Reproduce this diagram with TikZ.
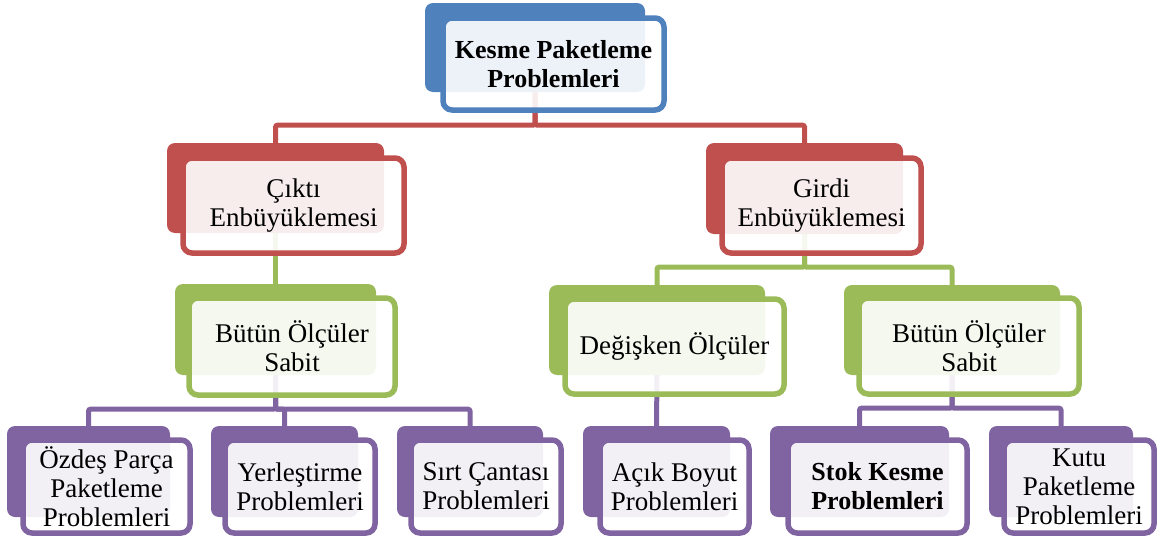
\documentclass[tikz,border=0pt]{standalone}
\usepackage{fontspec}
\setmainfont{Liberation Serif}
\usetikzlibrary{positioning}
\definecolor{mavi}{HTML}{4F81BD}
\definecolor{kirmizi}{HTML}{C0504D}
\definecolor{yesil}{HTML}{9BBB59}
\definecolor{mor}{HTML}{8064A2}

\begin{document}
\begin{tikzpicture}[
   x=1pt,y=-1pt,
   back/.style={fill=#1,rounded corners=8pt,inner sep=0pt},
   front/.style={draw=#1,line width=5.5pt,rounded corners=9pt,
                 fill=white,fill opacity=0.9,text opacity=1,
                 align=center,inner sep=2pt,
                 font=\fontsize{27pt}{29pt}\selectfont},
   link/.style={draw=#1,line width=5pt,rounded corners=2pt},
   sz/.style 2 args={minimum width=#1pt,minimum height=#2pt}]
  \useasboundingbox (0,0) rectangle (1163,538);
  % back boxes
  \node[back=mavi,sz={220}{89}] (kpp) at (535,47.5) {};
  \node[back=kirmizi,sz={217}{90}] (ckt) at (275.5,188) {};
  \node[back=kirmizi,sz={197}{91}] (grd) at (804.5,188.5) {};
  \node[back=yesil,sz={201}{91}] (bos1) at (275.5,329.5) {};
  \node[back=yesil,sz={216}{90}] (dgs) at (657,330) {};
  \node[back=yesil,sz={216}{90}] (bos2) at (952,330) {};
  \node[back=mor,sz={163}{91}] (ozd) at (88.5,471.5) {};
  \node[back=mor,sz={147}{91}] (yer) at (284.5,471.5) {};
  \node[back=mor,sz={146}{91}] (srt) at (470,471.5) {};
  \node[back=mor,sz={147}{91}] (acb) at (656.5,471.5) {};
  \node[back=mor,sz={179}{91}] (stk) at (859.5,471.5) {};
  \node[back=mor,sz={144}{91}] (kpb) at (1061,471.5) {};
  % connectors
  \draw[link=kirmizi] (kpp.south) -- ++(0,33) -| (ckt.north);
  \draw[link=kirmizi] (kpp.south) -- ++(0,33) -| (grd.north);
  \draw[link=yesil] (ckt.south) -- (bos1.north);
  \draw[link=yesil] (grd.south) -- ++(0,33) -| (dgs.north);
  \draw[link=yesil] (grd.south) -- ++(0,33) -| (bos2.north);
  \draw[link=mor] (bos1.south) -- ++(0,34) -| (ozd.north);
  \draw[link=mor] (bos1.south) -- ++(0,34) -| (yer.north);
  \draw[link=mor] (bos1.south) -- ++(0,34) -| (srt.north);
  \draw[link=mor] (dgs.south) -- (acb.north);
  \draw[link=mor] (bos2.south) -- ++(0,33) -| (stk.north);
  \draw[link=mor] (bos2.south) -- ++(0,33) -| (kpb.north);
  % front boxes
  \node[front=mavi,sz={221}{92},font=\fontsize{26pt}{29pt}\selectfont\bfseries] (kppF) at (553.5,64)
       {Kesme Paketleme\\Problemleri};
  \node[front=kirmizi,sz={221}{95}] (cktF) at (293.5,205.5) {Çıktı\\Enbüyüklemesi};
  \node[front=kirmizi,sz={199}{95}] (grdF) at (821.5,205.5) {Girdi\\Enbüyüklemesi};
  \node[front=yesil,sz={206}{97}] (bos1F) at (292,346.5) {Bütün Ölçüler\\Sabit};
  \node[front=yesil,sz={219}{95}] (dgsF) at (674.5,346.5) {Değişken Ölçüler};
  \node[front=yesil,sz={220}{96}] (bos2F) at (969,346) {Bütün Ölçüler\\Sabit};
  \node[front=mor,sz={167}{93}] (ozdF) at (106.5,486.5) {Özdeş Parça\\Paketleme\\Problemleri};
  \node[front=mor,sz={150}{93}] (yerF) at (300,486.5) {Yerleştirme\\Problemleri};
  \node[front=mor,sz={150}{93}] (srtF) at (486,486.5) {Sırt Çantası\\Problemleri};
  \node[front=mor,sz={149}{93}] (acbF) at (674.5,486.5) {Açık Boyut\\Problemleri};
  \node[front=mor,sz={179}{93},font=\fontsize{26pt}{29pt}\selectfont\bfseries] (stkF) at (877.5,486.5)
       {Stok Kesme\\Problemleri};
  \node[front=mor,sz={150}{93}] (kpbF) at (1079,486.5) {Kutu\\Paketleme\\Problemleri};
\end{tikzpicture}
\end{document}
